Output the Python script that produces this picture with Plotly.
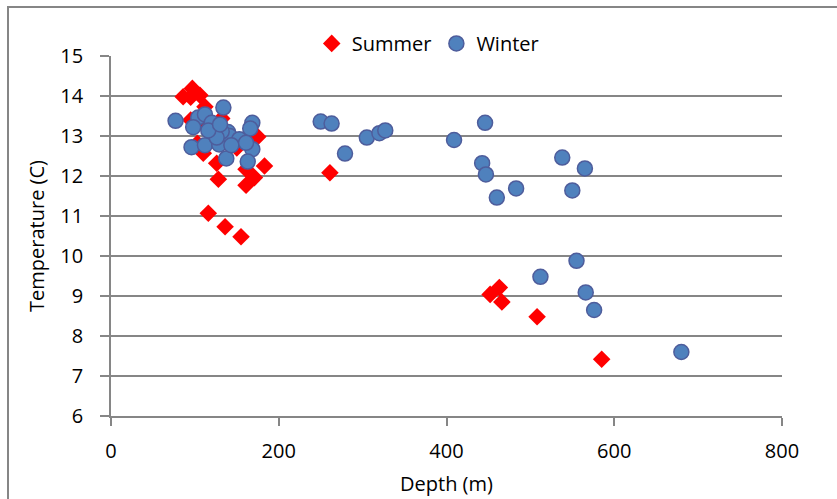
import plotly.graph_objects as go

summer_depth = [86, 97, 106, 95, 112, 95, 114, 132, 103, 110, 126, 128, 175, 161, 171, 161, 183, 116, 136, 155,
                120, 135, 150, 261, 463, 452, 466, 508, 585]
summer_temp = [13.98, 14.19, 14.02, 13.97, 13.73, 13.4, 13.23, 13.44, 12.82, 12.57, 12.32, 11.92, 12.98, 12.17, 11.96,
               11.77, 12.25, 11.07, 10.73, 10.48, 13.1, 12.9, 12.7, 12.08, 9.21, 9.04, 8.85, 8.48, 7.42]

winter_depth = [77, 134, 104, 112, 98, 120, 96, 112, 129, 139.5, 141.5, 132, 137.5, 153, 143.5, 168.5, 166, 168.5,
                163, 161, 126, 116, 130,
                250, 263, 279, 305, 320, 327,
                409, 446, 442.5, 447, 460, 483, 538, 565, 550,
                512, 555, 566, 576, 680]
winter_temp = [13.38, 13.71, 13.46, 13.54, 13.22, 13.33, 12.72, 12.77, 12.79, 13.1, 13.0, 13.11, 12.44, 12.92, 12.77,
               13.33, 13.19, 12.67, 12.36, 12.83, 12.96, 13.14, 13.29,
               13.36, 13.31, 12.56, 12.96, 13.07, 13.14,
               12.9, 13.33, 12.32, 12.04, 11.46, 11.69, 12.46, 12.19, 11.64,
               9.48, 9.88, 9.09, 8.65, 7.6]

x_ticks = [0, 200, 400, 600, 800]
y_ticks = [6, 7, 8, 9, 10, 11, 12, 13, 14, 15]

FONT = "Open Sans, Noto Sans, sans-serif"

fig = go.Figure()
fig.add_trace(go.Scatter(
    x=summer_depth, y=summer_temp, mode="markers", name="Summer",
    marker=dict(symbol="diamond", size=13.5, color="#FF0000", line=dict(width=0)),
))
fig.add_trace(go.Scatter(
    x=winter_depth, y=winter_temp, mode="markers", name="Winter",
    marker=dict(symbol="circle", size=15, color="#4F81BD", line=dict(width=1.5, color="#4E5D9C")),
))

fig.update_layout(
    width=837, height=499,
    margin=dict(l=111, r=55, t=56, b=83),
    paper_bgcolor="white", plot_bgcolor="white",
    font=dict(family=FONT, size=20, color="black"),
    legend=dict(orientation="h", x=0.472, y=1.035, xanchor="center", yanchor="middle",
                font=dict(size=20), bgcolor="rgba(0,0,0,0)", itemwidth=30),
    xaxis=dict(range=[0, 800], tickvals=x_ticks, showgrid=False, zeroline=False, automargin=False,
               showline=True, linecolor="#868686", linewidth=1.8,
               ticks="outside", ticklen=8, tickcolor="#868686", tickwidth=1.8,
               ticklabelstandoff=8, tickfont=dict(size=20),
               title=dict(text="Depth (m)", font=dict(size=20), standoff=14)),
    yaxis=dict(range=[6, 15], tickvals=y_ticks, showgrid=True, gridcolor="#868686", gridwidth=1.8,
               zeroline=False, showline=True, linecolor="#868686", linewidth=1.8, automargin=False,
               ticks="outside", ticklen=9, tickcolor="#868686", tickwidth=1.8,
               ticklabelstandoff=13, tickfont=dict(size=20),
               title=dict(text="Temperature (C)", font=dict(size=20), standoff=10)),
    shapes=[dict(type="rect", xref="paper", yref="paper",
                 x0=(8 - 111) / 671, x1=1.3, y0=-0.5, y1=1 + (56 - 7) / 360,
                 line=dict(color="#868686", width=2), fillcolor="rgba(0,0,0,0)", layer="below")],
)

fig.write_html("out.html")
